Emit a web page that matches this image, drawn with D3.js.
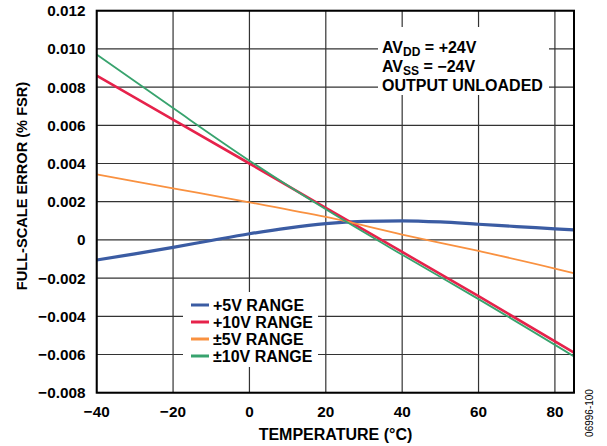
<!DOCTYPE html>
<html lang="en">
<head>
<meta charset="UTF-8">
<title>Full-Scale Error vs Temperature</title>
<script src="https://cdn.jsdelivr.net/npm/d3@7/dist/d3.min.js"></script>
<style>
  * { margin: 0; padding: 0; }
  body { background: #fff; width: 607px; height: 446px; overflow: hidden; }
  svg text { font-family: 'Liberation Sans', Arial, sans-serif; font-weight: bold; fill: #000; }
</style>
</head>
<body>
<svg id="chart" width="607" height="446"></svg>
<script>
// ─── Data ───────────────────────────────────────────────────────────────────
const xTicks = [-40, -20, 0, 20, 40, 60, 80];
const yTicks = [-0.008, -0.006, -0.004, -0.002, 0, 0.002, 0.004, 0.006, 0.008, 0.010, 0.012];

const tempPos5  = [-40, -30, -20, -10, 0, 10, 20, 30, 40, 50, 60, 70, 80, 85];
const errPos5   = [-0.00105, -0.00073, -0.00039, -0.00003, 0.00032, 0.00062, 0.00085,
                   0.00097, 0.00100, 0.00094, 0.00082, 0.00070, 0.00058, 0.00052];

const tempPos10 = [-40, -20, 0, 20, 40, 60, 85];
const errPos10  = [0.0086, 0.0063, 0.0040, 0.00168, -0.00063, -0.00295, -0.0059];

const tempBip5  = [-40, -20, 0, 20, 40, 60, 80, 85];
const errBip5   = [0.00343, 0.0027, 0.00197, 0.0012, 0.00028, -0.00058, -0.0015, -0.00175];

const tempBip10 = [-40, -20, 0, 20, 40, 60, 85];
const errBip10  = [0.0097, 0.0069, 0.00415, 0.0016, -0.00078, -0.0031, -0.0061];

const seriesNames = ['+5V RANGE', '+10V RANGE', '\u00B15V RANGE', '\u00B110V RANGE'];

// ─── Layout ─────────────────────────────────────────────────────────────────
const M = { left: 96.7, right: 574, top: 10.7, bottom: 392.7 };
const svg = d3.select('#chart');

const x = d3.scaleLinear().domain([-40, 85]).range([M.left, M.right]);
const y = d3.scaleLinear().domain([-0.008, 0.012]).range([M.bottom, M.top]);

const fmtY = v => v === 0 ? '0' : (v < 0 ? '\u2212' : '') + Math.abs(v).toFixed(3);
const fmtX = v => (v < 0 ? '\u2212' : '') + Math.abs(v);

// grid
const grid = svg.append('g');
grid.selectAll('.vg').data(xTicks).enter().append('line')
  .attr('x1', d => x(d)).attr('x2', d => x(d))
  .attr('y1', M.top).attr('y2', M.bottom)
  .attr('stroke', '#333').attr('stroke-width', 1.2);
grid.selectAll('.hg').data(yTicks).enter().append('line')
  .attr('x1', M.left).attr('x2', M.right)
  .attr('y1', d => y(d)).attr('y2', d => y(d))
  .attr('stroke', '#333').attr('stroke-width', 1.2);

// white boxes that mask the grid behind legend / annotation
svg.append('rect').attr('x', 378).attr('y', 27).attr('width', 171).attr('height', 68).attr('fill', '#fff');
svg.append('rect').attr('x', 183).attr('y', 292).attr('width', 135).attr('height', 75).attr('fill', '#fff');

// series
const series = [
  { name: seriesNames[0], t: tempPos5,  v: errPos5,  color: '#3b5ca3', w: 3.2, curve: d3.curveMonotoneX },
  { name: seriesNames[1], t: tempPos10, v: errPos10, color: '#e6224b', w: 2.6, curve: d3.curveLinear },
  { name: seriesNames[2], t: tempBip5,  v: errBip5,  color: '#f99140', w: 1.8, curve: d3.curveMonotoneX },
  { name: seriesNames[3], t: tempBip10, v: errBip10, color: '#38a36e', w: 1.8, curve: d3.curveMonotoneX },
];

const plot = svg.append('g');
series.forEach(s => {
  const pts = s.t.map((t, i) => [t, s.v[i]]);
  plot.append('path')
    .attr('d', d3.line().x(d => x(d[0])).y(d => y(d[1])).curve(s.curve)(pts))
    .attr('fill', 'none').attr('stroke', s.color).attr('stroke-width', s.w);
});

// frame
svg.append('rect')
  .attr('x', M.left).attr('y', M.top)
  .attr('width', M.right - M.left).attr('height', M.bottom - M.top)
  .attr('fill', 'none').attr('stroke', '#000').attr('stroke-width', 2);

// tick labels
svg.selectAll('.xl').data(xTicks).enter().append('text')
  .attr('x', d => x(d)).attr('y', 417)
  .attr('text-anchor', 'middle').attr('font-size', 15.3)
  .text(fmtX);
svg.selectAll('.yl').data(yTicks).enter().append('text')
  .attr('x', 85.5).attr('y', d => y(d) + 5.5)
  .attr('text-anchor', 'end').attr('font-size', 15.3)
  .text(fmtY);

// axis titles
svg.append('text').attr('x', 335.5).attr('y', 440)
  .attr('text-anchor', 'middle').attr('font-size', 16)
  .text('TEMPERATURE (\u00B0C)');
svg.append('text')
  .attr('transform', 'translate(26.5,186) rotate(-90)')
  .attr('text-anchor', 'middle').attr('font-size', 14.6)
  .text('FULL-SCALE ERROR (% FSR)');

// annotation
const ann = svg.append('text').attr('font-size', 16);
const l1 = ann.append('tspan').attr('x', 382).attr('y', 53);
l1.append('tspan').text('AV');
l1.append('tspan').attr('font-size', 12).attr('dy', 3).text('DD');
l1.append('tspan').attr('dy', -3).text(' = +24V');
const l2 = ann.append('tspan').attr('x', 382).attr('y', 72);
l2.append('tspan').text('AV');
l2.append('tspan').attr('font-size', 12).attr('dy', 3).text('SS');
l2.append('tspan').attr('dy', -3).text(' = \u221224V');
ann.append('tspan').attr('x', 382).attr('y', 91).text('OUTPUT UNLOADED');

// legend
const leg = svg.append('g');
series.forEach((s, i) => {
  const cy = 305 + i * 17;
  leg.append('line').attr('x1', 191).attr('x2', 209).attr('y1', cy).attr('y2', cy)
    .attr('stroke', s.color).attr('stroke-width', 3);
  leg.append('text').attr('x', 213).attr('y', cy + 5.6).attr('font-size', 16).text(s.name);
});

// figure code
svg.append('text')
  .attr('transform', 'translate(593,413) rotate(-90)')
  .attr('text-anchor', 'middle').attr('font-size', 10)
  .style('font-weight', 'normal')
  .text('06996-100');
</script>
</body>
</html>
